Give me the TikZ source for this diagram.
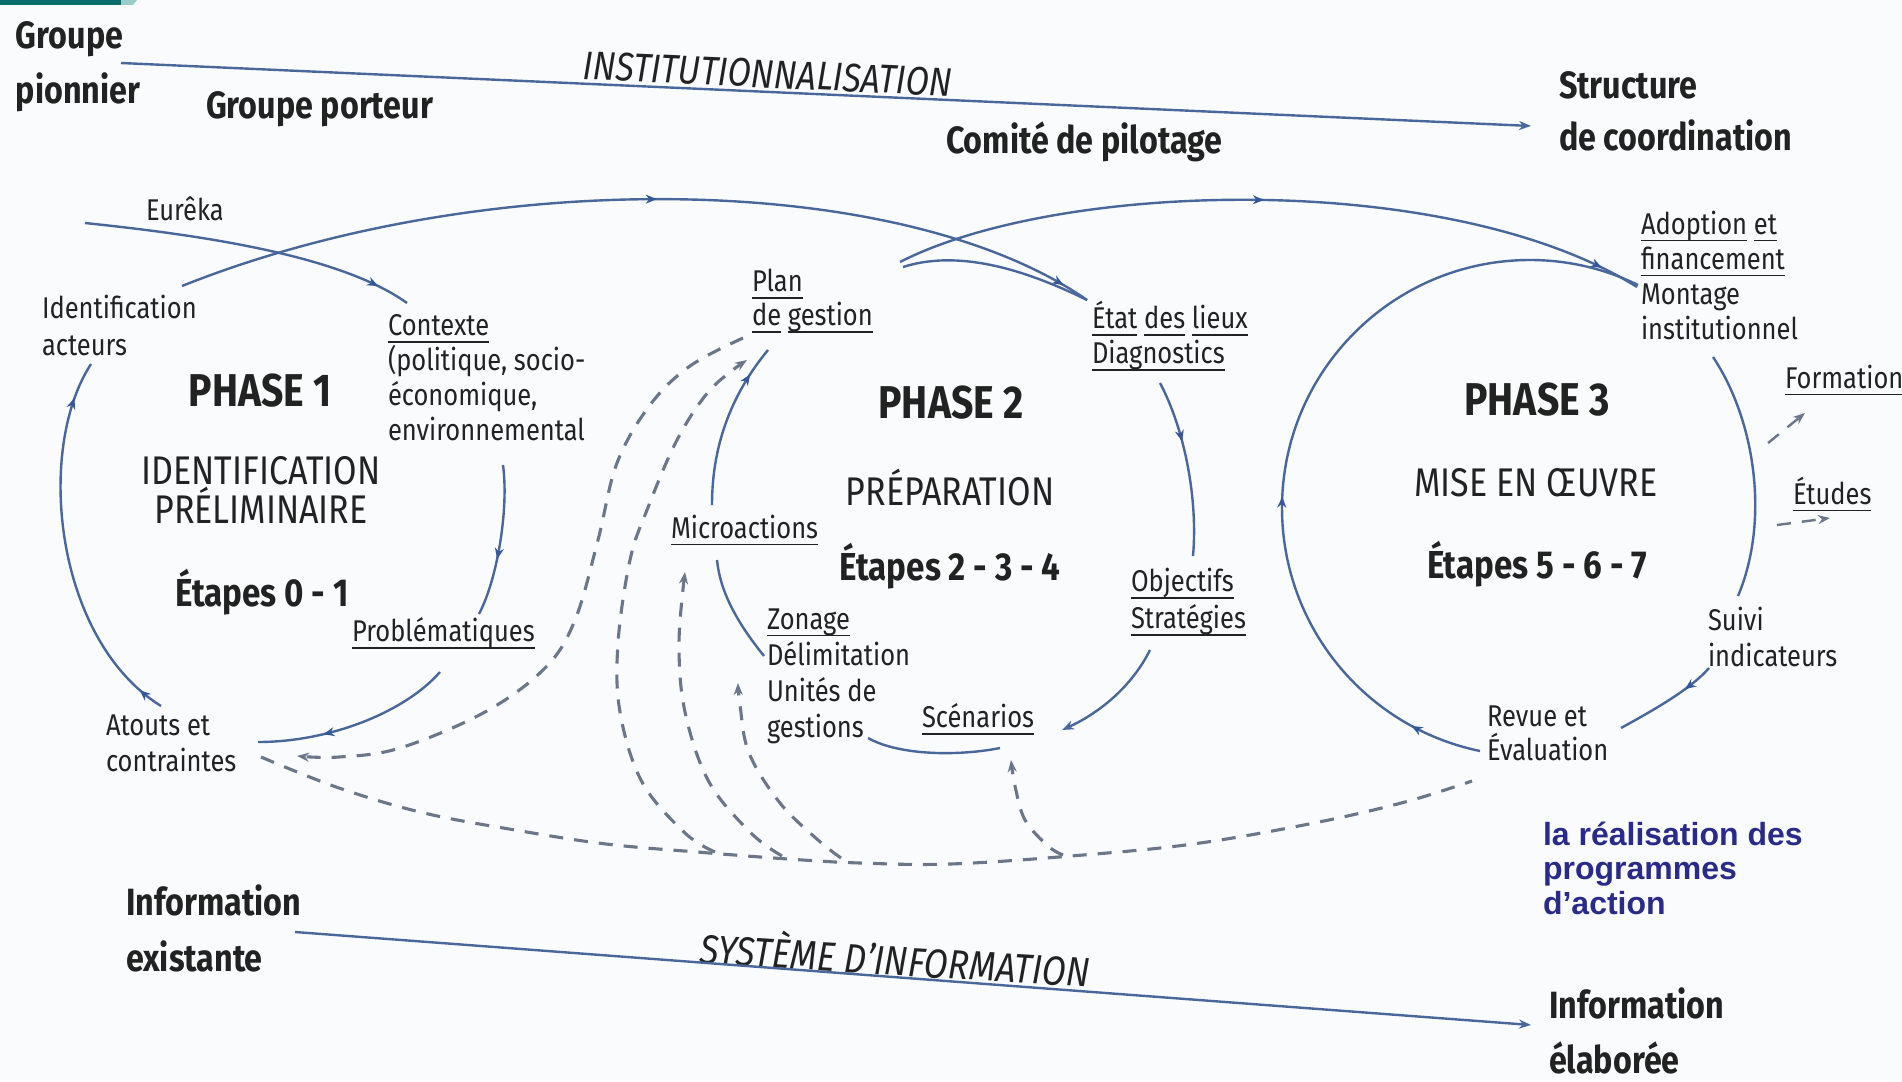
\documentclass[tikz,border=0pt]{standalone}
\usepackage{fontspec}
\setmainfont{Fira Sans}[FakeStretch=0.85]
\newfontfamily\arialb{Liberation Sans}
\newcommand{\ulw}[1]{\leavevmode\setbox0\hbox{#1}\rlap{\rule[-0.24em]{\wd0}{1.6pt}}\box0}
\usetikzlibrary{arrows.meta,decorations.markings}
\definecolor{ln}{HTML}{4A679B}
\definecolor{dsh}{HTML}{6B7789}
\definecolor{mk}{HTML}{34589A}
\definecolor{txt}{HTML}{222222}
\definecolor{navy}{HTML}{2A2A8A}
\definecolor{teal1}{HTML}{0A6B6B}
\definecolor{teal2}{HTML}{9ACCCC}
\definecolor{bg}{HTML}{F9FBFD}
\begin{document}
\begin{tikzpicture}[x=1pt,y=-1pt,
  every node/.style={inner sep=0pt, outer sep=0pt, text=txt},
  lbl/.style={font=\fontsize{30}{36}\selectfont, align=left, anchor=west},
  big/.style={font=\bfseries\fontsize{38}{55}\selectfont, align=left, anchor=west},
  phasettl/.style={font=\bfseries\fontsize{46}{50}\selectfont, align=center},
  subttl/.style={font=\fontsize{40}{39}\selectfont, align=center},
  etp/.style={font=\bfseries\fontsize{39}{44}\selectfont, align=center},
  flowlab/.style={font=\itshape\fontsize{40}{44}\selectfont},
  solidln/.style={draw=ln, line width=2.4pt},
  dashln/.style={draw=dsh, line width=3.1pt, dash pattern=on 14pt off 11pt},
  tip/.style={-{Stealth[length=12pt,width=9pt]}},
  midarr/.style={postaction={decorate,decoration={markings,mark=at position #1 with {\arrow[color=mk]{Stealth[length=11pt,width=9pt]}}}}},
]
\fill[bg] (0,0) rectangle (1902,1081);
\useasboundingbox (0,0) rectangle (1902,1081);
\fill[teal1] (0,0) rectangle (121,5);
\fill[teal2] (121,0) -- (137,0) -- (133,5) -- (121,5) -- cycle;

% ---------- top and bottom flows
\node[big] (gpion) at (16,67) {Groupe\\pionnier};
\node[big] (gport) at (206,109) {Groupe porteur};
\node[big] (comite) at (946,142) {Comité de pilotage};
\node[big, font=\bfseries\fontsize{38}{52}\selectfont] (struct) at (1559,111) {Structure\\de coordination};
\node[flowlab, rotate=-2.6] (instlab) at (768,74) {INSTITUTIONNALISATION};
\coordinate (instA) at (121,63);
\coordinate (instB) at (1531,126);
\draw[solidln, tip] (instA) -- (instB);

\node[big, font=\bfseries\fontsize{38}{56}\selectfont] (infoex) at (126,928) {Information\\existante};
\node[big] (infoel) at (1549,1031) {Information\\élaborée};
\node[flowlab, font=\itshape\fontsize{41}{44}\selectfont, rotate=-3.5] (syslab) at (895,957) {SYSTÈME D'INFORMATION};
\coordinate (sysA) at (295,932);
\coordinate (sysB) at (1531,1025);
\draw[solidln, tip] (sysA) -- (sysB);

% ---------- phase 1 texts
\node[lbl] (eureka) at (146,209) {Eurêka};
\node[lbl, font=\fontsize{30}{37}\selectfont] (ident) at (42,325) {Identification\\acteurs};
\node[lbl, font=\fontsize{30}{35}\selectfont] (contexte) at (388,378) {\ulw{Contexte}\\(politique, socio-\\économique,\\environnemental};
\node[phasettl] (phase1) at (260,391) {PHASE 1};
\node[subttl] (idprel) at (261,490) {IDENTIFICATION\\PRÉLIMINAIRE};
\node[etp] (etape1) at (262,592) {Étapes 0 - 1};
\node[lbl] (probl) at (352,633) {\ulw{Problématiques}};
\node[lbl] (atouts) at (106,743) {Atouts et\\contraintes};

% ---------- phase 2 texts
\node[lbl, font=\fontsize{30}{34}\selectfont] (plan) at (752,301) {\ulw{Plan}\\\ulw{de}\ \ulw{gestion}};
\node[phasettl] (phase2) at (951,403) {PHASE 2};
\node[subttl] (prep) at (950,488) {PRÉPARATION};
\node[lbl] (micro) at (671,530) {\ulw{Microactions}};
\node[etp] (etape2) at (950,566) {Étapes 2 - 3 - 4};
\node[lbl] (zonage) at (767,676) {\ulw{Zonage}\\Délimitation\\Unités de\\gestions};
\node[lbl] (scen) at (922,719) {\ulw{Scénarios}};
\node[lbl, font=\fontsize{30}{35}\selectfont] (etat) at (1092,336) {\ulw{État}\ \ulw{des}\ \ulw{lieux}\\\ulw{Diagnostics}};
\node[lbl, font=\fontsize{30}{37}\selectfont] (objectifs) at (1131,602) {\ulw{Objectifs}\\\ulw{Stratégies}};

% ---------- phase 3 texts
\node[phasettl] (phase3) at (1537,400) {PHASE 3};
\node[subttl] (mise) at (1536,483) {MISE EN ŒUVRE};
\node[etp] (etape3) at (1537,564) {Étapes 5 - 6 - 7};
\node[lbl, font=\fontsize{30}{35}\selectfont] (adoption) at (1641,275) {\ulw{Adoption}\ \ulw{et}\\\ulw{financement}\\Montage\\institutionnel};
\node[lbl] (formation) at (1785,380) {\ulw{Formation}};
\node[lbl] (etudes) at (1793,494) {\ulw{Études}};
\node[lbl] (suivi) at (1708,637) {Suivi\\indicateurs};
\node[lbl, font=\fontsize{30}{34}\selectfont] (revue) at (1487,733) {Revue et\\Évaluation};
\node[lbl, text=navy, font=\arialb\bfseries\fontsize{32}{34.5}\selectfont] (realis) at (1543,868) {la réalisation des\\programmes\\d’action};

% ---------- phase 1 connectors
\coordinate (eu0) at (85,223);
\coordinate (eu1) at (407,303);
\draw[solidln, midarr=0.9] (eu0) .. controls (200,235) and (340,255) .. (eu1);
\coordinate (id0) at (182,286);
\coordinate (et1) at (1087,300);
\draw[solidln, midarr=0.52, midarr=0.97] (id0) .. controls (482,166) and (900,170) .. (et1);
\coordinate (cx0) at (503,465);
\coordinate (pb1) at (479,614);
\draw[solidln, midarr=0.62] (cx0) .. controls (509,510) and (497,580) .. (pb1);
\coordinate (pb0) at (440,672);
\coordinate (at1) at (258,742);
\draw[solidln, midarr=0.67] (pb0) .. controls (405,712) and (330,742) .. (at1);
\coordinate (at0) at (161,706);
\coordinate (id1) at (91,364);
\draw[solidln, midarr=0.07, midarr=0.9] (at0) .. controls (55,640) and (35,450) .. (id1);

% ---------- phase 2 connectors
\coordinate (pl0) at (900,262);
\coordinate (ad1) at (1637,287);
\draw[solidln, midarr=0.49, midarr=0.947] (pl0) .. controls (1060,180) and (1450,170) .. (ad1);
\coordinate (pl0b) at (903,267);
\draw[solidln] (pl0b) .. controls (950,252) and (1010,262) .. (et1);
\coordinate (et0) at (1160,383);
\coordinate (ob1) at (1193,556);
\draw[solidln, midarr=0.35] (et0) .. controls (1185,430) and (1198,500) .. (ob1);
\coordinate (ob0) at (1150,650);
\coordinate (sc1) at (1062,730);
\draw[solidln, tip] (ob0) .. controls (1130,690) and (1095,715) .. (sc1);
\coordinate (sc0) at (1000,748);
\coordinate (ge1) at (868,738);
\draw[solidln] (sc0) .. controls (960,756) and (900,756) .. (ge1);
\coordinate (de0) at (764,656);
\coordinate (mi1) at (717,560);
\draw[solidln] (de0) .. controls (735,620) and (720,590) .. (mi1);
\coordinate (mi0) at (712,505);
\coordinate (pl1) at (768,350);
\draw[solidln, midarr=0.82] (mi0) .. controls (712,440) and (735,390) .. (pl1);

% ---------- phase 3 connectors
\coordinate (rv0) at (1480,751);
\coordinate (ad2) at (1638,285);
\draw[solidln, midarr=0.087, midarr=0.417] (rv0) .. controls (1364.8,727.2) and (1282,625.7) .. (1282,508)
   .. controls (1282,371) and (1393,260) .. (1530,260)
   .. controls (1567.4,260) and (1604.2,268.4) .. (ad2);
\coordinate (mo0) at (1713,357);
\coordinate (su1) at (1738,596);
\draw[solidln] (mo0) .. controls (1755,420) and (1770,520) .. (su1);
\coordinate (su0) at (1709,668);
\coordinate (rv1) at (1621,728);
\draw[solidln, midarr=0.3] (su0) .. controls (1690,690) and (1650,712) .. (rv1);
\coordinate (fo0) at (1768,443);
\coordinate (fo1) at (1805,413);
\draw[dashln, tip, line width=2.4pt] (fo0) -- (fo1);
\coordinate (eq0) at (1777,525);
\coordinate (eq1) at (1830,518);
\draw[dashln, tip, line width=2.4pt] (eq0) -- (eq1);

% ---------- information (dashed) network
\coordinate (tr0) at (261,757);
\coordinate (tr1) at (1472,781);
\draw[dashln] plot[smooth, tension=0.6] coordinates {(tr0) (339,788) (424,813) (515,830) (606,844) (697,852) (788,859) (860,863) (950,864) (1071,856) (1193,844) (1314,823) (1405,802) (tr1)};
\coordinate (d1a) at (743,338);
\coordinate (d1b) at (297,756);
\draw[dashln, tip] plot[smooth, tension=0.6] coordinates {(d1a) (690,366) (650,405) (617,463) (598,540) (575,620) (545,668) (485,712) (400,748) (339,757) (d1b)};
\coordinate (d2a) at (715,852);
\coordinate (d2b) at (747,360);
\draw[dashln, tip] plot[smooth, tension=0.6] coordinates {(d2a) (685,833) (642,782) (620,712) (618,643) (630,560) (647,510) (677,440) (710,390) (d2b)};
\coordinate (d3a) at (782,856);
\coordinate (d3b) at (685,572);
\draw[dashln, tip] plot[smooth, tension=0.6] coordinates {(d3a) (751,833) (709,782) (685,712) (679,643) (d3b)};
\coordinate (d4a) at (841,858);
\coordinate (d4b) at (738,683);
\draw[dashln, tip] plot[smooth, tension=0.6] coordinates {(d4a) (818,840) (780,803) (749,753) (740,705) (d4b)};
\coordinate (d5a) at (1063,855);
\coordinate (d5b) at (1011,760);
\draw[dashln, tip] plot[smooth, tension=0.6] coordinates {(d5a) (1048,846) (1025,820) (1015,786) (d5b)};
\end{tikzpicture}
\end{document}
